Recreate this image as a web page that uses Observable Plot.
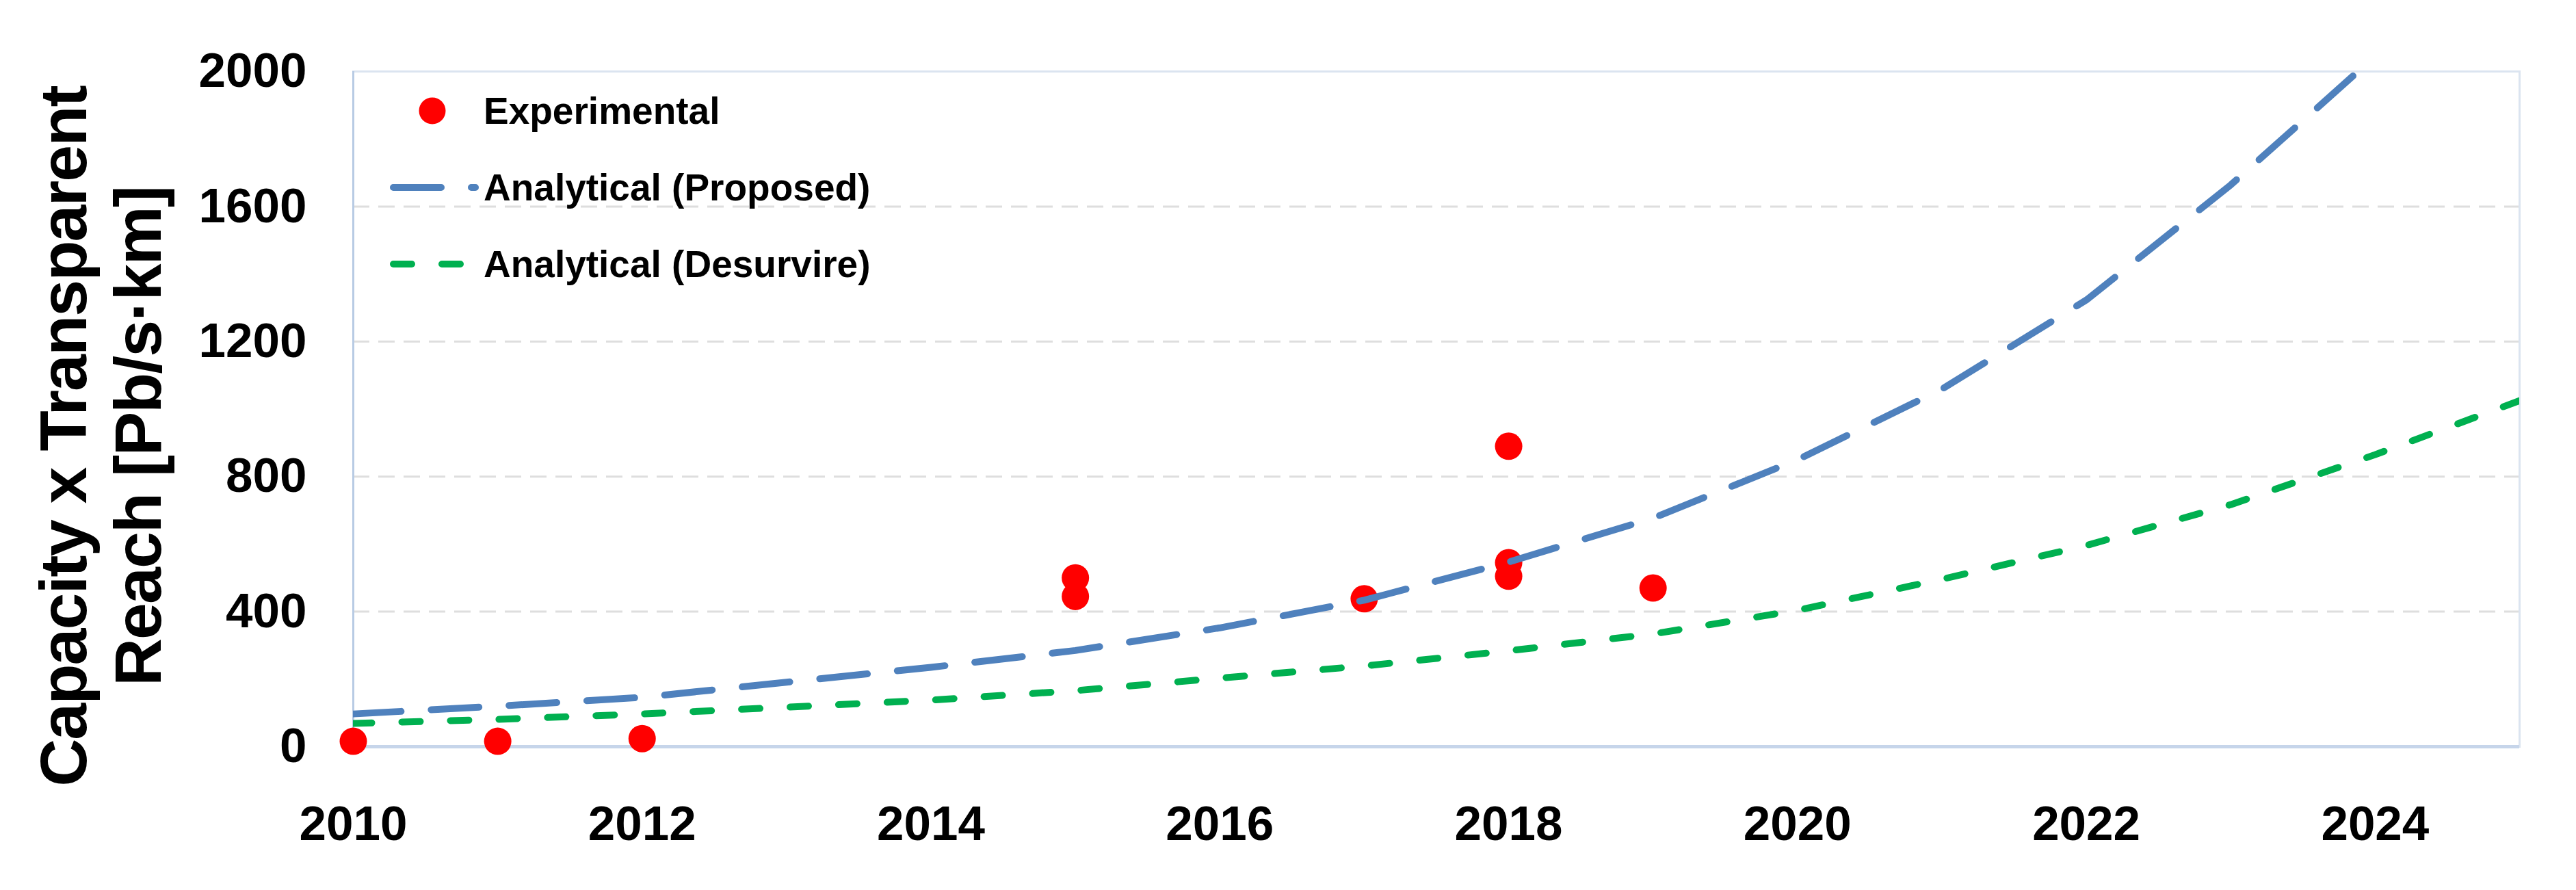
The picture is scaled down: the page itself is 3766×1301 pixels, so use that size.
<!DOCTYPE html>
<html>
<head>
<meta charset="utf-8">
<script src="https://cdn.jsdelivr.net/npm/d3@7"></script>
<script src="https://cdn.jsdelivr.net/npm/@observablehq/plot@0.6"></script>
<style>
  html, body { margin: 0; padding: 0; background: #fff; }
  #wrap { position: relative; width: 3766px; height: 1301px; font-family: "Liberation Sans", Arial, sans-serif; }
  g[aria-label="text"] text { letter-spacing: -2px; }
  #legend { position: absolute; left: 560px; top: 118px; font-weight: bold; font-size: 55px; color: #000; }
  .row { position: relative; height: 112px; }
  .row svg { position: absolute; left: 0; top: 0; }
  .row span { position: absolute; left: 147px; top: 44px; transform: translateY(-50%); white-space: nowrap; }
</style>
</head>
<body>
<div id="wrap">
  <div id="chart"></div>
  <div id="legend"></div>
</div>
<script>
// ---- data ----
const expYears  = [2010, 2011, 2012, 2015, 2015, 2017, 2018, 2018, 2018, 2019];
const expValues = [16,   16,   24,   500,  445,  438,  890,  545,  505,  470];

const curveYears = [2010, 2011, 2012, 2013, 2014, 2015, 2016, 2017, 2018, 2019, 2020, 2021, 2022, 2023, 2024, 2025];
const proposed   = [97,   120,  146,  191,  235,  285,  352,  434,  547,  677,  850,  1059, 1323, 1664, 2045, null];
const desurvire  = [69,   81,   97,   117,  138,  166,  203,  239,  284,  334,  404,  496,  596,  717,  865,  1025];

const xTicks = [2010, 2012, 2014, 2016, 2018, 2020, 2022, 2024];
const yTicks = [0, 400, 800, 1200, 1600, 2000];
const gridValues = [400, 800, 1200, 1600];

const seriesNames = ["Experimental", "Analytical (Proposed)", "Analytical (Desurvire)"];
const yTitle = "Capacity x Transparent\nReach [Pb/s·km]";

const colors = { exp: "#ff0000", prop: "#4f81bd", des: "#00b050" };

const expData = expYears.map((x, i) => ({ x, y: expValues[i] }));
const propData = curveYears.map((x, i) => ({ x, y: proposed[i] })).filter(d => d.y != null);
const desData = curveYears.map((x, i) => ({ x, y: desurvire[i] }));

const chart = Plot.plot({
  width: 3766,
  height: 1301,
  marginLeft: 516,
  marginRight: 83,
  marginTop: 104,
  marginBottom: 210,
  style: { fontFamily: "'Liberation Sans', Arial, sans-serif", background: "#fff" },
  x: { domain: [2010, 2025] },
  y: { domain: [0, 2000] },
  marks: [
    Plot.ruleY(gridValues, { stroke: "#dedede", strokeWidth: 3, strokeDasharray: "24,13" }),
    Plot.frame({ stroke: "#dbe4f0", strokeWidth: 3 }),
    Plot.ruleX([2010], { stroke: "#b8cbe4", strokeWidth: 3 }),
    Plot.ruleY([0], { stroke: "#c6d5ea", strokeWidth: 5 }),
    Plot.axisX({ ticks: xTicks, tickFormat: "d", tickSize: 0, tickPadding: 86, fontSize: 71, fontWeight: "bold", label: null, color: "#000" }),
    Plot.axisY({ ticks: yTicks, tickFormat: "d", tickSize: 0, tickPadding: 68, fontSize: 71, fontWeight: "bold", label: null, color: "#000" }),
    Plot.dot(expData, { x: "x", y: "y", r: 20, fill: colors.exp, stroke: "none" }),
    Plot.line(desData, { x: "x", y: "y", stroke: colors.des, strokeWidth: 10, strokeDasharray: "27,44", strokeLinecap: "round", clip: true }),
    Plot.line(propData, { x: "x", y: "y", stroke: colors.prop, strokeWidth: 10, strokeDasharray: "70,44", strokeLinecap: "round", clip: true }),
    Plot.text([yTitle], { frameAnchor: "left", text: d => d, rotate: -90, textAnchor: "middle", lineAnchor: "middle", dx: -371, dy: 40, fontSize: 97, fontWeight: "bold", lineHeight: 1.12, fill: "#000" })
  ]
});
document.getElementById("chart").appendChild(chart);

// ---- legend (overlay inside plot area) ----
const legend = document.getElementById("legend");
const swatches = [
  `<svg width="140" height="88"><circle cx="72" cy="44" r="19.5" fill="${colors.exp}"/></svg>`,
  `<svg width="140" height="88"><line x1="15" y1="44" x2="135" y2="44" stroke="${colors.prop}" stroke-width="10" stroke-linecap="round" stroke-dasharray="70,44"/></svg>`,
  `<svg width="140" height="88"><line x1="15" y1="44" x2="125" y2="44" stroke="${colors.des}" stroke-width="10" stroke-linecap="round" stroke-dasharray="27,44"/></svg>`
];
seriesNames.forEach((name, i) => {
  const row = document.createElement("div");
  row.className = "row";
  row.innerHTML = swatches[i] + `<span>${name}</span>`;
  legend.appendChild(row);
});
</script>
</body>
</html>
